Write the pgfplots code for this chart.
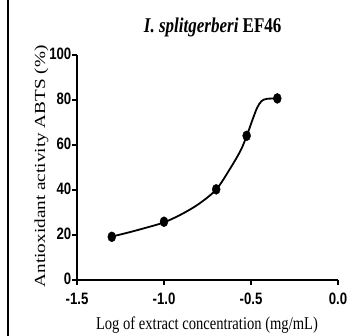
\documentclass[border=0pt]{standalone}
\usepackage{fontspec}
\setmainfont{Liberation Serif}
\newfontfamily\sansb[FakeStretch=0.8]{Liberation Sans}
\newfontfamily\serifc[FakeStretch=0.81]{Liberation Serif}
\usepackage{pgfplots}
\pgfplotsset{compat=1.18}
\begin{document}
\begin{tikzpicture}
\begin{axis}[
  at={(77bp,56bp)}, anchor=south west,
  scale only axis, width=261bp, height=225bp,
  xmin=-1.5, xmax=0, ymin=0, ymax=100,
  axis x line*=bottom, axis y line*=left,
  axis line style={line width=1.8bp, -},
  xtick={-1.5,-1,-0.5,0}, ytick={0,20,40,60,80,100},
  tick align=outside, major tick length=5bp,
  tick style={line width=1.5bp, black},
  xticklabel style={/pgf/number format/fixed, /pgf/number format/fixed zerofill, /pgf/number format/precision=1, inner sep=0pt, yshift=-8bp},
  /pgf/number format/assume math mode=true,
  ticklabel style={font=\fontsize{16.5bp}{18bp}\sansb\bfseries},
  yticklabel style={inner sep=0.5bp, yshift=1bp},
  clip=false,
  xlabel={\fontsize{18bp}{20bp}\serifc Log of extract concentration (mg/mL)},
  xlabel style={at={(axis description cs:0.498,-0.222)}, anchor=base},
  ylabel={\scalebox{1}[0.8]{\fontsize{19.2bp}{21bp}\selectfont Antioxidant activity ABTS (\%)}},
  ylabel style={at={(axis description cs:-0.122,0.505)}, anchor=base},
]
\addplot[black, line width=1.8bp, smooth, tension=0.5] coordinates {
(-1.30,19.3) (-1.20,21.2) (-1.10,23.3) (-1.00,25.6) (-0.90,29.2) (-0.80,33.8)
(-0.70,40.2) (-0.62,49.5) (-0.56,57.5) (-0.525,64) (-0.49,71.5) (-0.465,76.5)
(-0.44,79.5) (-0.41,80.5) (-0.35,80.7)
};
\addplot[only marks, mark=*, mark size=5bp, mark options={xscale=0.8}, black] coordinates {
(-1.30,19.2) (-1.00,25.9) (-0.70,40.3) (-0.525,64.1) (-0.349,80.7)
};
\node[font=\fontsize{21bp}{23bp}\serifc\bfseries, anchor=base] at (axis description cs:0.52,1.102) {\textit{I. splitgerberi} EF46};
\end{axis}
\draw[line width=1.5bp] (8bp,0) -- (8bp,336bp);
\pgfresetboundingbox
\useasboundingbox (0,0) rectangle (351bp,336bp);
\end{tikzpicture}
\end{document}
